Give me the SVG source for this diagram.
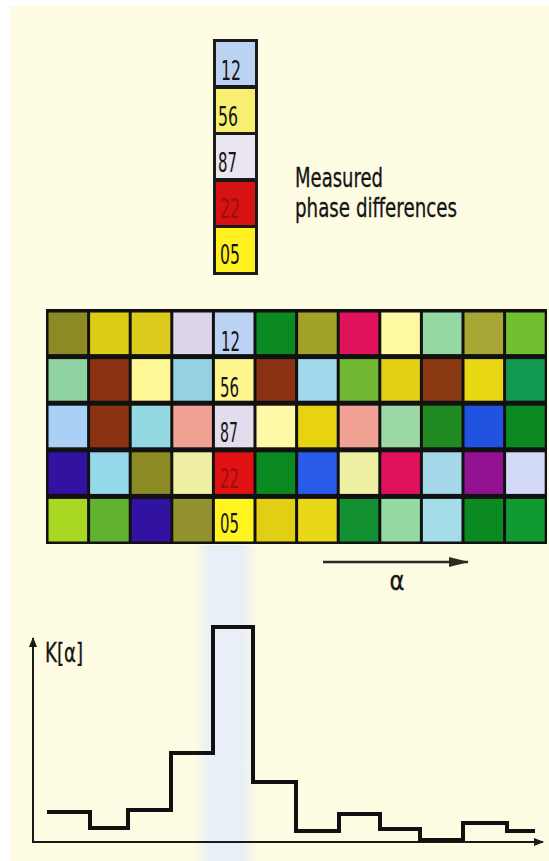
<svg xmlns="http://www.w3.org/2000/svg" width="549" height="861" viewBox="0 0 549 861">
<style>
.num{font-family:"DejaVu Sans Condensed","Liberation Sans",sans-serif;font-stretch:condensed;font-size:27px;fill:#151515}
.red{fill:#9a1010}
.lbl{font-family:"DejaVu Sans Condensed","Liberation Sans",sans-serif;font-stretch:condensed;font-size:26px;fill:#151515;stroke:#151515;stroke-width:0.3}
.step{fill:none;stroke:#111;stroke-width:4;stroke-linejoin:miter}
.axis{fill:none;stroke:#1a1a1a;stroke-width:2}
</style>
<defs>
<linearGradient id="strip" x1="0" y1="0" x2="1" y2="0">
<stop offset="0" stop-color="#e8eef4" stop-opacity="0"/>
<stop offset="0.25" stop-color="#e9eff6"/>
<stop offset="0.75" stop-color="#e9eff6"/>
<stop offset="1" stop-color="#e8eef4" stop-opacity="0"/>
</linearGradient>
<marker id="ah" markerWidth="10" markerHeight="8" refX="9" refY="4" orient="auto" markerUnits="userSpaceOnUse">
<path d="M0,0 L10,4 L0,8 Z" fill="#1a1a1a"/>
</marker>
<marker id="ah2" markerWidth="20" markerHeight="10" refX="19" refY="5" orient="auto" markerUnits="userSpaceOnUse">
<path d="M0,0 L20,5 L0,10 Z" fill="#2a2a20"/>
</marker>
</defs>
<rect x="0" y="0" width="549" height="861" fill="#ffffff"/>
<rect x="10" y="6" width="539" height="855" fill="#fdfbe2"/>
<rect x="194" y="545" width="64" height="316" fill="url(#strip)"/>

<g id="measured-column">
<rect x="213" y="39" width="45" height="236" fill="#1a1a1a"/>
<rect x="216" y="42" width="39" height="43" fill="#bcd2f2"/>
<rect x="216" y="89" width="39" height="43" fill="#f8ee70"/>
<rect x="216" y="135" width="39" height="43" fill="#ebe5ef"/>
<rect x="216" y="182" width="39" height="43" fill="#d61212"/>
<rect x="216" y="228" width="39" height="44" fill="#fff020"/>
<text class="num" x="221" y="80" textLength="20" lengthAdjust="spacingAndGlyphs">12</text>
<text class="num" x="218" y="126" textLength="20" lengthAdjust="spacingAndGlyphs">56</text>
<text class="num" x="218" y="172" textLength="19" lengthAdjust="spacingAndGlyphs">87</text>
<text class="num red" x="220" y="218" textLength="20" lengthAdjust="spacingAndGlyphs">22</text>
<text class="num" x="220" y="264" textLength="20" lengthAdjust="spacingAndGlyphs">05</text>
</g>

<g id="label-measured">
<text class="lbl" x="295" y="187" textLength="88" lengthAdjust="spacingAndGlyphs">Measured</text>
<text class="lbl" x="295" y="217" textLength="162" lengthAdjust="spacingAndGlyphs">phase differences</text>
</g>

<g id="grid">
<rect x="46" y="309" width="501" height="235" fill="#111"/>
<g transform="translate(47,310)">
<rect x="1.5" y="2.5" width="38.6" height="41.6" fill="#8c8a24"/>
<rect x="43.1" y="2.5" width="38.6" height="41.6" fill="#dccd14"/>
<rect x="84.7" y="2.5" width="38.6" height="41.6" fill="#dccb1c"/>
<rect x="126.3" y="2.5" width="38.6" height="41.6" fill="#dcd6e8"/>
<rect x="167.9" y="2.5" width="38.6" height="41.6" fill="#bcd2f2"/>
<rect x="209.5" y="2.5" width="38.6" height="41.6" fill="#0c8a22"/>
<rect x="251.1" y="2.5" width="38.6" height="41.6" fill="#a2a228"/>
<rect x="292.7" y="2.5" width="38.6" height="41.6" fill="#e0125c"/>
<rect x="334.3" y="2.5" width="38.6" height="41.6" fill="#fff9a4"/>
<rect x="375.9" y="2.5" width="38.6" height="41.6" fill="#94d8a4"/>
<rect x="417.5" y="2.5" width="38.6" height="41.6" fill="#a8a634"/>
<rect x="459.1" y="2.5" width="38.6" height="41.6" fill="#72c032"/>
<rect x="1.5" y="49.1" width="38.6" height="41.6" fill="#90d2a2"/>
<rect x="43.1" y="49.1" width="38.6" height="41.6" fill="#8a3212"/>
<rect x="84.7" y="49.1" width="38.6" height="41.6" fill="#fff696"/>
<rect x="126.3" y="49.1" width="38.6" height="41.6" fill="#94d2e2"/>
<rect x="167.9" y="49.1" width="38.6" height="41.6" fill="#fff68e"/>
<rect x="209.5" y="49.1" width="38.6" height="41.6" fill="#8a3212"/>
<rect x="251.1" y="49.1" width="38.6" height="41.6" fill="#a2d8ee"/>
<rect x="292.7" y="49.1" width="38.6" height="41.6" fill="#72b832"/>
<rect x="334.3" y="49.1" width="38.6" height="41.6" fill="#e2d014"/>
<rect x="375.9" y="49.1" width="38.6" height="41.6" fill="#8a3a12"/>
<rect x="417.5" y="49.1" width="38.6" height="41.6" fill="#e8d814"/>
<rect x="459.1" y="49.1" width="38.6" height="41.6" fill="#129a52"/>
<rect x="1.5" y="95.7" width="38.6" height="41.6" fill="#aad0f6"/>
<rect x="43.1" y="95.7" width="38.6" height="41.6" fill="#8a3212"/>
<rect x="84.7" y="95.7" width="38.6" height="41.6" fill="#94d8e2"/>
<rect x="126.3" y="95.7" width="38.6" height="41.6" fill="#f2a294"/>
<rect x="167.9" y="95.7" width="38.6" height="41.6" fill="#e2dcec"/>
<rect x="209.5" y="95.7" width="38.6" height="41.6" fill="#fff8a6"/>
<rect x="251.1" y="95.7" width="38.6" height="41.6" fill="#e8d212"/>
<rect x="292.7" y="95.7" width="38.6" height="41.6" fill="#f2a294"/>
<rect x="334.3" y="95.7" width="38.6" height="41.6" fill="#9cd8a4"/>
<rect x="375.9" y="95.7" width="38.6" height="41.6" fill="#228a22"/>
<rect x="417.5" y="95.7" width="38.6" height="41.6" fill="#2252e0"/>
<rect x="459.1" y="95.7" width="38.6" height="41.6" fill="#0c8a22"/>
<rect x="1.5" y="142.3" width="38.6" height="41.6" fill="#3212a0"/>
<rect x="43.1" y="142.3" width="38.6" height="41.6" fill="#94d8ea"/>
<rect x="84.7" y="142.3" width="38.6" height="41.6" fill="#8c8a24"/>
<rect x="126.3" y="142.3" width="38.6" height="41.6" fill="#f0f0a4"/>
<rect x="167.9" y="142.3" width="38.6" height="41.6" fill="#e01212"/>
<rect x="209.5" y="142.3" width="38.6" height="41.6" fill="#0c8a22"/>
<rect x="251.1" y="142.3" width="38.6" height="41.6" fill="#2a5ae8"/>
<rect x="292.7" y="142.3" width="38.6" height="41.6" fill="#eef0a4"/>
<rect x="334.3" y="142.3" width="38.6" height="41.6" fill="#e0125c"/>
<rect x="375.9" y="142.3" width="38.6" height="41.6" fill="#a4d8e8"/>
<rect x="417.5" y="142.3" width="38.6" height="41.6" fill="#921292"/>
<rect x="459.1" y="142.3" width="38.6" height="41.6" fill="#d2daf8"/>
<rect x="1.5" y="188.9" width="38.6" height="42.6" fill="#a8d822"/>
<rect x="43.1" y="188.9" width="38.6" height="42.6" fill="#62b232"/>
<rect x="84.7" y="188.9" width="38.6" height="42.6" fill="#3212a0"/>
<rect x="126.3" y="188.9" width="38.6" height="42.6" fill="#92922e"/>
<rect x="167.9" y="188.9" width="38.6" height="42.6" fill="#fff420"/>
<rect x="209.5" y="188.9" width="38.6" height="42.6" fill="#e2ce12"/>
<rect x="251.1" y="188.9" width="38.6" height="42.6" fill="#e8d818"/>
<rect x="292.7" y="188.9" width="38.6" height="42.6" fill="#129032"/>
<rect x="334.3" y="188.9" width="38.6" height="42.6" fill="#94d8a2"/>
<rect x="375.9" y="188.9" width="38.6" height="42.6" fill="#a4dce8"/>
<rect x="417.5" y="188.9" width="38.6" height="42.6" fill="#0c8a22"/>
<rect x="459.1" y="188.9" width="38.6" height="42.6" fill="#129a32"/>
</g>
<text class="num" x="221" y="351" textLength="19" lengthAdjust="spacingAndGlyphs">12</text>
<text class="num" x="220" y="397" textLength="19" lengthAdjust="spacingAndGlyphs">56</text>
<text class="num" x="220" y="442" textLength="18" lengthAdjust="spacingAndGlyphs">87</text>
<text class="num red" x="220" y="488" textLength="19" lengthAdjust="spacingAndGlyphs">22</text>
<text class="num" x="220" y="533" textLength="19" lengthAdjust="spacingAndGlyphs">05</text>
</g>

<g id="connectors">
<line x1="323" y1="562" x2="468" y2="562" stroke="#2a2a20" stroke-width="2.5" marker-end="url(#ah2)"/>
<line class="axis" x1="33" y1="843" x2="33" y2="638" marker-end="url(#ah)"/>
<line class="axis" x1="32" y1="842" x2="543" y2="842" marker-end="url(#ah)"/>
</g>

<g id="alpha-label">
<text class="lbl" x="397" y="590" text-anchor="middle" font-size="28" textLength="15" lengthAdjust="spacingAndGlyphs">α</text>
</g>

<g id="chart">
<text class="lbl" x="45" y="662" font-size="28" textLength="38" lengthAdjust="spacingAndGlyphs">K[α]</text>
<path class="step" d="M47,812 H90 V828 H128 V810 H171 V753 H213 V627 H253 V782 H296 V831 H339 V814 H380 V829 H420 V840 H463 V823 H507 V831 H535"/>
</g>
</svg>
